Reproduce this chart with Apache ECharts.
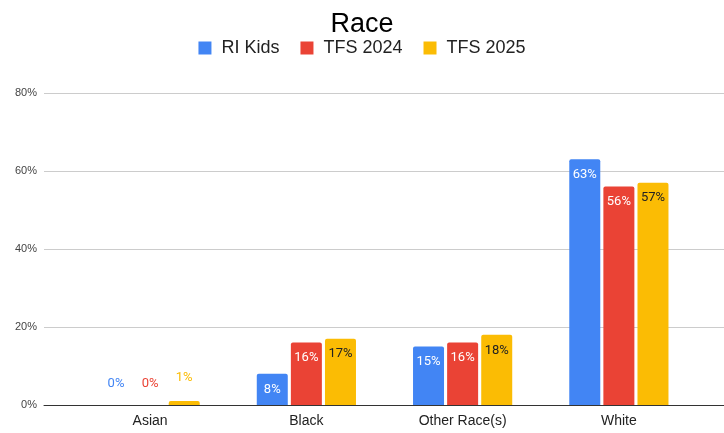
<!DOCTYPE html>
<html>
<head>
<meta charset="utf-8">
<script src="https://cdn.jsdelivr.net/npm/echarts@6/dist/echarts.min.js"></script>
<style>
  html, body { margin: 0; padding: 0; background: #fff; }
  #chart { width: 724px; height: 433px; }
</style>
</head>
<body>
<div id="chart"></div>
<script>
// Chart data
const categories = ['Asian', 'Black', 'Other Race(s)', 'White'];
const seriesNames = ['RI Kids', 'TFS 2024', 'TFS 2025'];
const riKids = [0, 8, 15, 63];
const tfs2024 = [0, 16, 16, 56];
const tfs2025 = [1, 17, 18, 57];
const yTicks = [0, 20, 40, 60, 80];

const colors = ['#4285F4', '#EA4335', '#FBBC04'];
const insideText = ['#ffffff', '#ffffff', '#222222'];
const SANS = 'Arial, "Liberation Sans", sans-serif';
const LABEL_FONT = 'Roboto, Arial, sans-serif';

// Bars too short to hold their value get the label above, in the series colour
function buildData(values, idx) {
  return values.map(v => {
    if (v < 4) {
      return {
        value: v,
        label: { position: 'top', distance: v === 0 ? 15 : 17, color: colors[idx] }
      };
    }
    return v;
  });
}

const chart = echarts.init(document.getElementById('chart'));
const allValues = [riKids, tfs2024, tfs2025];

chart.setOption({
  animation: false,
  title: {
    text: 'Race',
    left: 'center',
    top: 11,
    padding: 0,
    textStyle: { fontFamily: SANS, fontSize: 27, fontWeight: 'normal', color: '#000' }
  },
  legend: {
    data: seriesNames,
    top: 39,
    left: 'center',
    padding: 0,
    itemWidth: 13,
    itemHeight: 13,
    itemGap: 21,
    icon: 'rect',
    textStyle: { fontFamily: SANS, fontSize: 18, color: '#222', padding: [0, 0, 0, 5] }
  },
  grid: [
    // full-width grid carrying the value axis and its gridlines
    { left: 44, right: 0, top: 93, bottom: 28, containLabel: false },
    // inner grid holding the category bars
    { left: 72, right: 27, top: 93, bottom: 28, containLabel: false }
  ],
  xAxis: [
    {
      gridIndex: 0, type: 'category', data: [''],
      axisLine: { show: true, lineStyle: { color: '#333', width: 1 } },
      axisTick: { show: false }, axisLabel: { show: false }
    },
    {
      gridIndex: 1, type: 'category', data: categories,
      axisLine: { show: false }, axisTick: { show: false },
      axisLabel: { fontFamily: SANS, fontSize: 14, color: '#222', margin: 9 }
    }
  ],
  yAxis: [
    {
      gridIndex: 0, type: 'value', min: yTicks[0], max: yTicks[yTicks.length - 1], interval: 20,
      axisLine: { show: false }, axisTick: { show: false },
      axisLabel: { formatter: '{value}%', fontFamily: SANS, fontSize: 11, color: '#444', margin: 7 },
      splitLine: { lineStyle: { color: '#cccccc', width: 1 } }
    },
    {
      gridIndex: 1, type: 'value', min: yTicks[0], max: yTicks[yTicks.length - 1], interval: 20,
      show: false, splitLine: { show: false }
    }
  ],
  series: seriesNames.map((name, i) => ({
    name: name,
    type: 'bar',
    xAxisIndex: 1,
    yAxisIndex: 1,
    data: buildData(allValues[i], i),
    barWidth: 31,
    barGap: '10%',
    itemStyle: { color: colors[i], borderRadius: [2, 2, 0, 0] },
    label: {
      show: true,
      position: 'insideTop',
      distance: 9,
      formatter: '{c}%',
      fontFamily: LABEL_FONT,
      fontSize: 13,
      color: insideText[i]
    }
  }))
});
</script>
</body>
</html>
